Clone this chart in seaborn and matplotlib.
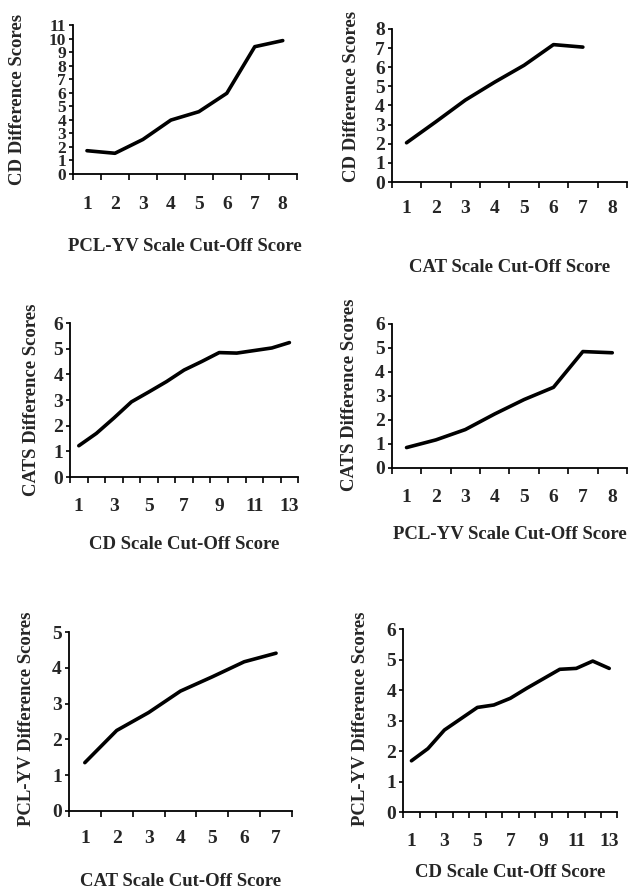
import numpy as np
import matplotlib
matplotlib.use("Agg")
import matplotlib.pyplot as plt
import seaborn as sns

# --- data ---
pcl_cut = [1, 2, 3, 4, 5, 6, 7, 8]
cat_cut = [1, 2, 3, 4, 5, 6, 7]
cd_cut = list(range(1, 14))

cd_by_pcl = [1.72, 1.53, 2.55, 3.98, 4.6, 5.96, 9.4, 9.85]
cd_by_cat = [2.05, 3.15, 4.28, 5.22, 6.1, 7.18, 7.05]
cats_by_cd = [1.22, 1.7, 2.3, 2.93, 3.32, 3.72, 4.17, 4.5, 4.85, 4.83, 4.93, 5.03, 5.24]
cats_by_pcl = [0.85, 1.17, 1.6, 2.25, 2.85, 3.36, 4.85, 4.8]
pcl_by_cat = [1.35, 2.25, 2.75, 3.35, 3.75, 4.17, 4.41]
pcl_by_cd = [1.68, 2.08, 2.69, 3.06, 3.43, 3.51, 3.73, 4.06, 4.37, 4.68, 4.71, 4.95, 4.71]

sns.set_theme(style="ticks")
plt.rcParams['font.family'] = ['Liberation Serif', 'DejaVu Serif']
plt.rcParams['font.weight'] = 'bold'
plt.rcParams['axes.labelweight'] = 'bold'

fig = plt.figure(figsize=(6.32, 8.90), dpi=100)

# (x values, y values, n bins, x tick labels shown, y max, xlabel, ylabel,
#  axes rect, ylabel coords, xlabel y, xtick pad, ytick size)
panels = [
    (pcl_cut, cd_by_pcl, 8, pcl_cut, 11, "PCL-YV Scale Cut-Off Score", "CD Difference Scores",
     [0.1155, 0.8045, 0.354, 0.1674], (-0.25, 0.5), -0.49, 16, 12.5),
    (cat_cut, cd_by_cat, 8, list(range(1, 9)), 8, "CAT Scale Cut-Off Score", "CD Difference Scores",
     [0.620, 0.7955, 0.372, 0.172], (-0.17, 0.556), -0.556, 13, 14),
    (cd_cut, cats_by_cd, 13, list(range(1, 14, 2)), 6, "CD Scale Cut-Off Score", "CATS Difference Scores",
     [0.1108, 0.464, 0.361, 0.173], (-0.17, 0.5), -0.44, 15, 14),
    (pcl_cut, cats_by_pcl, 8, pcl_cut, 6, "PCL-YV Scale Cut-Off Score", "CATS Difference Scores",
     [0.620, 0.4742, 0.372, 0.1618], (-0.18, 0.507), -0.465, 15, 14),
    (cat_cut, pcl_by_cat, 7, cat_cut, 5, "CAT Scale Cut-Off Score", "PCL-YV Difference Scores",
     [0.109, 0.0888, 0.353, 0.201], (-0.19, 0.514), -0.397, 14, 14),
    (cd_cut, pcl_by_cd, 13, list(range(1, 14, 2)), 6, "CD Scale Cut-Off Score", "PCL-YV Difference Scores",
     [0.638, 0.0876, 0.339, 0.2056], (-0.2, 0.508), -0.328, 15, 14),
]

for xs, ys, nbins, xlabels, ymax, xlab, ylab, rect, ycoords, xlab_y, xpad, ysize in panels:
    ax = fig.add_axes(rect)
    sns.lineplot(x=xs, y=ys, ax=ax, color='black', linewidth=2.6)
    ax.set_xlim(0.5, nbins + 0.5)
    ax.set_ylim(0, ymax)
    sns.despine(ax=ax)
    for s in ['left', 'bottom']:
        ax.spines[s].set_linewidth(1.3)
        ax.spines[s].set_color('black')

    ax.set_xticks(xlabels)
    ax.set_xticklabels([str(v) for v in xlabels])
    ax.set_xticks(np.arange(0.5, nbins + 1, 1), minor=True)
    ax.tick_params(axis='x', which='major', length=0, pad=xpad, labelsize=14)
    ax.tick_params(axis='x', which='minor', length=4, width=1.2, direction='out', color='black')
    ax.set_yticks(range(0, ymax + 1))
    ax.tick_params(axis='y', length=3, width=1.2, pad=2, labelsize=ysize, color='black')
    for lbl in ax.get_xticklabels() + ax.get_yticklabels():
        lbl.set_fontweight('bold')

    ax.set_xlabel(xlab, fontsize=13.5, fontweight='bold')
    ax.set_ylabel(ylab, fontsize=13.5, fontweight='bold')
    ax.xaxis.set_label_coords(0.5, xlab_y)
    ax.xaxis.label.set_va('center')
    ax.yaxis.set_label_coords(*ycoords)
    ax.yaxis.label.set_va('center')

fig.savefig("out.png", dpi=100)
